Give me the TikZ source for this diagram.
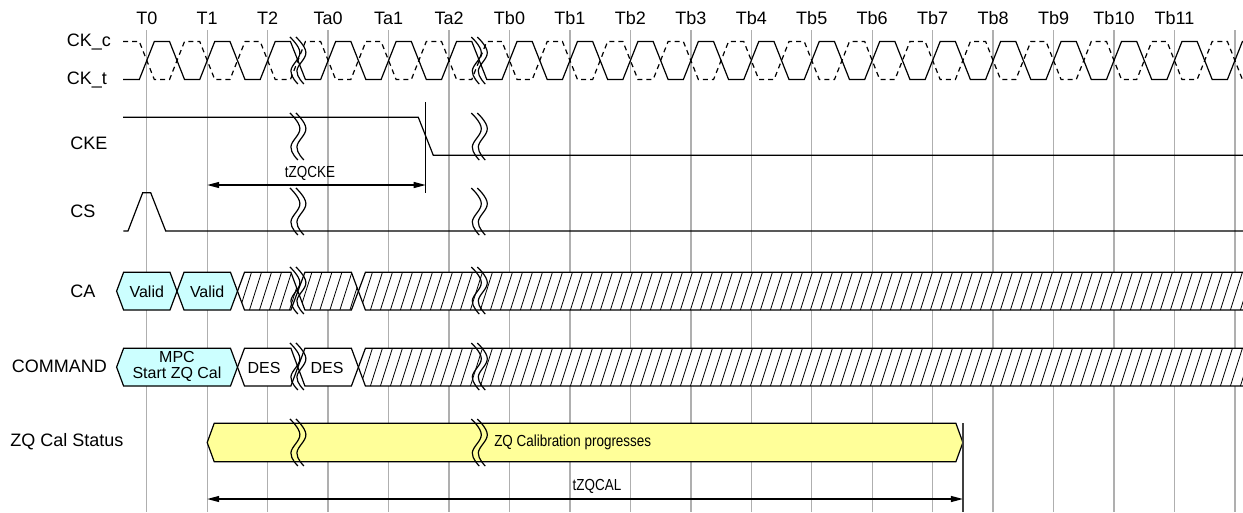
\documentclass[tikz,border=0pt]{standalone}
\usepackage{fontspec}
\setmainfont{Liberation Sans}
\newfontfamily\condfont[FakeStretch=0.84]{Liberation Sans}
\usetikzlibrary{arrows.meta}
\definecolor{gridc}{RGB}{175,175,175}
\definecolor{cyanf}{RGB}{204,255,255}
\definecolor{yelf}{RGB}{255,255,153}
\tikzset{
  sig/.style={line width=0.9pt, black, line join=miter},
  gridl/.style={line width=1pt, gridc},
  brkl/.style={line width=0.9pt, black},
  hatchl/.style={line width=0.6pt, black},
  dimline/.style={line width=0.9pt, {Triangle[length=9pt,width=4.5pt]}-{Triangle[length=9pt,width=4.5pt]}},
  lbl/.style={font=\fontsize{13.5}{15}\selectfont, inner sep=0pt},
  celltxt/.style={font=\fontsize{12}{12}\selectfont, inner sep=0pt, align=center},
  condtxt/.style={font=\condfont\fontsize{12}{13}\selectfont, inner sep=0pt},
}
\def\Tz{146.8}
\def\Pp{60.45}
\def\Hp{30.225}
\def\Ed{7.5}
% hexagonal cell: x1, x2, ytop, ybot, fill
\newcommand\hexcell[5]{%
  \pgfmathsetmacro\hm{(#3+#4)/2}%
  \filldraw[sig, fill=#5] (#1,\hm) -- ({#1+7},#3) -- ({#2-7},#3) -- (#2,\hm) -- ({#2-7},#4) -- ({#1+7},#4) -- cycle;
}
\newcommand\hatchcell[4]{%
  \pgfmathsetmacro\hm{(#3+#4)/2}%
  \pgfmathtruncatemacro\hn{(#2-#1)/10+3}%
  \begin{scope}
    \clip (#1,\hm) -- ({#1+7},#3) -- ({#2-7},#3) -- (#2,\hm) -- ({#2-7},#4) -- ({#1+7},#4) -- cycle;
    \fill[white] (#1,#3) rectangle (#2,#4);
    \foreach \hi in {0,...,\hn} \draw[hatchl] ({#1+\hi*10-8},#4) -- ({#1+\hi*10+4},#3);
  \end{scope}
  \draw[sig] (#1,\hm) -- ({#1+7},#3) -- ({#2-7},#3) -- (#2,\hm) -- ({#2-7},#4) -- ({#1+7},#4) -- cycle;
}
\newcommand\brkmark[3]{%
  \foreach \bo in {-8,-2}{%
    \pgfmathsetmacro\bxa{#1+\bo}%
    \pgfmathsetmacro\bxb{#1+\bo+10}%
    \pgfmathsetmacro\bxc{#1+\bo+1}%
    \pgfmathsetmacro\bxd{#1+\bo+8}%
    \pgfmathsetmacro\bya{#2+0.33*(#3-#2)}%
    \pgfmathsetmacro\byb{#2+0.72*(#3-#2)}%
    \draw[brkl] plot[smooth, tension=0.7] coordinates {(\bxa,#2) (\bxb,\bya) (\bxc,\byb) (\bxd,#3)};
  }%
}
\begin{document}
\begin{tikzpicture}[x=0.75pt, y=-0.75pt]
\useasboundingbox (0,0) rectangle (1243,512);
\clip (0,0) rectangle (1243,512);

% grid lines and top labels
\foreach \i in {0,...,18} \draw[gridl] ({\Tz+\i*\Pp},30) -- ({\Tz+\i*\Pp},512);
\foreach \i/\t in {0/T0,1/T1,2/T2,3/Ta0,4/Ta1,5/Ta2,6/Tb0,7/Tb1,8/Tb2,9/Tb3,10/Tb4,11/Tb5,12/Tb6,13/Tb7,14/Tb8,15/Tb9,16/Tb10,17/Tb11}
  \node[lbl] (top\i) at ({\Tz+\i*\Pp},18) {\t};

% left labels
\node[lbl, anchor=west] (lckc) at (66.7,42) {CK\_c};
\node[lbl, anchor=west] (lckt) at (66.7,79.5) {CK\_t};
\node[lbl, anchor=west] (lcke) at (70,143) {CKE};
\node[lbl, anchor=west] (lcs) at (70,211) {CS};
\node[lbl, anchor=west] (lca) at (70,291) {CA};
\node[lbl, anchor=west] (lcmd) at (11.5,366) {COMMAND};
\node[lbl, anchor=west] (lzq) at (10,442) {ZQ Cal Status};

% clocks
\draw[sig] (123,79.5) \foreach \j in {0,...,18} { -- ({\Tz+2*\j*\Hp-\Ed},79.5) -- ({\Tz+2*\j*\Hp+\Ed},41.5) -- ({\Tz+(2*\j+1)*\Hp-\Ed},41.5) -- ({\Tz+(2*\j+1)*\Hp+\Ed},79.5) };
\draw[sig, dash pattern=on 3.75pt off 3pt] (123,41.5) \foreach \j in {0,...,18} { -- ({\Tz+2*\j*\Hp-\Ed},41.5) -- ({\Tz+2*\j*\Hp+\Ed},79.5) -- ({\Tz+(2*\j+1)*\Hp-\Ed},79.5) -- ({\Tz+(2*\j+1)*\Hp+\Ed},41.5) };

% CKE
\draw[sig] (123,117.3) -- (418.3,117.3) -- (433.3,155.3) -- (1250,155.3);
\draw[line width=1.1pt, black] (425.7,102) -- (425.7,193);
\coordinate (ckeA) at (207.2,185);
\coordinate (ckeB) at (425.7,185);
\draw[dimline] (ckeA) -- (ckeB);
\node[condtxt] (tzqcke) at (310,173) {tZQCKE};

% CS
\draw[sig] (123.3,231) -- (128,231) -- (142.7,192.7) -- (150.7,192.7) -- (165.7,231) -- (1250,231);

% CA
\hexcell{116.6}{177}{272.3}{310}{cyanf}
\hexcell{177}{237.5}{272.3}{310}{cyanf}
\node[celltxt] (va1) at (146.8,291.5) {Valid};
\node[celltxt] (va2) at (207.2,291.5) {Valid};
\hatchcell{237.5}{297.9}{272.3}{310}
\hatchcell{297.9}{358.4}{272.3}{310}
\hatchcell{358.4}{1270}{272.3}{310}

% COMMAND
\hexcell{116.6}{237.5}{348.3}{386}{cyanf}
\node[celltxt] (mpc) at (177,366) {MPC\\Start ZQ Cal};
\hexcell{237.5}{297.9}{348.3}{386}{white}
\hexcell{297.9}{358.4}{348.3}{386}{white}
\node[celltxt] (des1) at (264,367.5) {DES};
\node[celltxt] (des2) at (327,367.5) {DES};
\hatchcell{358.4}{1270}{348.3}{386}

% ZQ Cal status
\hexcell{207.2}{962.9}{423.3}{461.7}{yelf}
\node[condtxt, anchor=west] (zqtxt) at (494,442.5) {ZQ Calibration progresses};
\draw[line width=1.4pt, black!75] (962.9,423) -- (962.9,512);
\coordinate (calA) at (207.2,499);
\coordinate (calB) at (962.9,499);
\draw[dimline] (calA) -- (calB);
\node[condtxt] (tzqcal) at (597,486) {tZQCAL};

% break marks
\foreach \bx in {297.9,479.3}{
  \brkmark{\bx}{37}{84}
  \brkmark{\bx}{113}{160}
  \brkmark{\bx}{188}{235}
  \brkmark{\bx}{267}{314}
  \brkmark{\bx}{343}{390}
  \brkmark{\bx}{419}{466}
}
\end{tikzpicture}
\end{document}
